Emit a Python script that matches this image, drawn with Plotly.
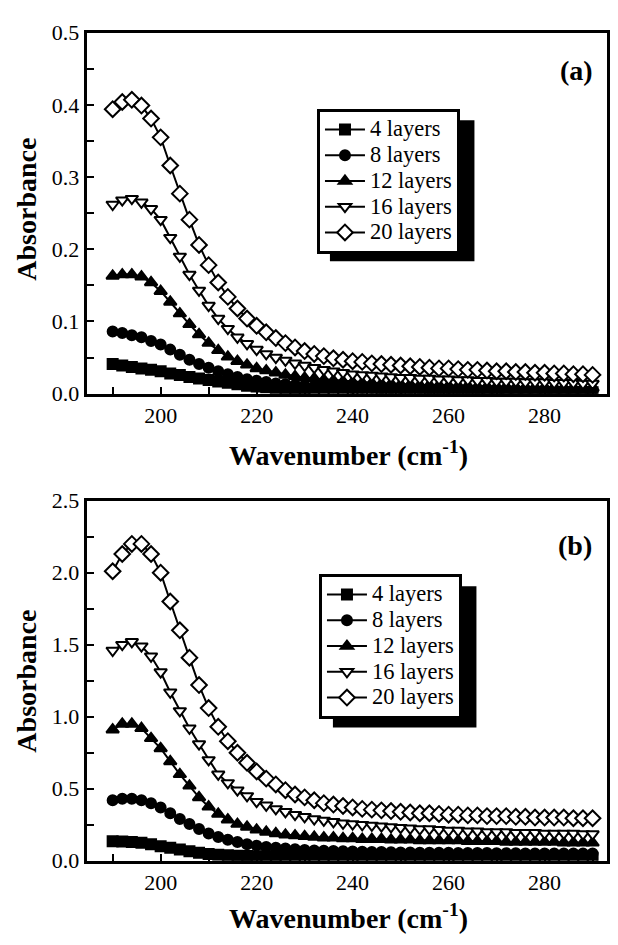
import plotly.graph_objects as go

# ---------------- data ----------------
wavenumber = [190, 192, 194, 196, 198, 200, 202, 204, 206, 208, 210, 212, 214, 216, 218, 220,
              222, 224, 226, 228, 230, 232, 234, 236, 238, 240, 242, 244, 246, 248, 250, 252,
              254, 256, 258, 260, 262, 264, 266, 268, 270, 272, 274, 276, 278, 280, 282, 284,
              286, 288, 290]

series_names = ["4 layers", "8 layers", "12 layers", "16 layers", "20 layers"]

# panel (a)
a_4 = [0.041, 0.039, 0.037, 0.035, 0.033, 0.031, 0.028, 0.026, 0.023, 0.021, 0.019, 0.017, 0.015,
       0.013, 0.011, 0.010, 0.009, 0.008, 0.007, 0.006, 0.006, 0.005, 0.005, 0.005, 0.004, 0.004,
       0.004, 0.004, 0.004, 0.003, 0.003, 0.003, 0.003, 0.003, 0.003, 0.003, 0.003, 0.003, 0.003,
       0.003, 0.002, 0.002, 0.002, 0.002, 0.002, 0.002, 0.002, 0.002, 0.002, 0.002, 0.002]
a_8 = [0.086, 0.084, 0.081, 0.078, 0.073, 0.068, 0.061, 0.054, 0.047, 0.041, 0.036, 0.031, 0.027,
       0.023, 0.020, 0.018, 0.016, 0.014, 0.013, 0.012, 0.011, 0.010, 0.010, 0.009, 0.009, 0.008,
       0.008, 0.008, 0.007, 0.007, 0.007, 0.007, 0.007, 0.006, 0.006, 0.006, 0.006, 0.006, 0.006,
       0.005, 0.005, 0.005, 0.005, 0.005, 0.005, 0.005, 0.005, 0.005, 0.005, 0.005, 0.005]
a_12 = [0.163, 0.165, 0.165, 0.162, 0.154, 0.142, 0.127, 0.111, 0.096, 0.082, 0.070, 0.060, 0.051,
        0.045, 0.040, 0.035, 0.032, 0.029, 0.026, 0.024, 0.022, 0.021, 0.019, 0.018, 0.017, 0.016,
        0.015, 0.015, 0.014, 0.014, 0.013, 0.013, 0.012, 0.012, 0.012, 0.011, 0.011, 0.011, 0.010,
        0.010, 0.010, 0.010, 0.009, 0.009, 0.009, 0.009, 0.009, 0.008, 0.008, 0.008, 0.008]
a_16 = [0.262, 0.268, 0.270, 0.265, 0.256, 0.241, 0.216, 0.190, 0.165, 0.143, 0.122, 0.104, 0.090,
        0.078, 0.069, 0.061, 0.055, 0.050, 0.046, 0.042, 0.039, 0.036, 0.033, 0.031, 0.029, 0.027,
        0.026, 0.025, 0.024, 0.023, 0.022, 0.022, 0.021, 0.021, 0.020, 0.020, 0.019, 0.019, 0.018,
        0.018, 0.017, 0.017, 0.017, 0.016, 0.016, 0.016, 0.015, 0.015, 0.015, 0.014, 0.014]
a_20 = [0.394, 0.404, 0.407, 0.399, 0.381, 0.355, 0.316, 0.277, 0.241, 0.206, 0.178, 0.154, 0.134,
        0.118, 0.104, 0.094, 0.085, 0.077, 0.070, 0.064, 0.059, 0.055, 0.052, 0.049, 0.047, 0.045,
        0.044, 0.042, 0.041, 0.040, 0.039, 0.038, 0.037, 0.036, 0.035, 0.035, 0.034, 0.033, 0.033,
        0.032, 0.031, 0.031, 0.030, 0.030, 0.029, 0.029, 0.028, 0.028, 0.027, 0.027, 0.026]

# panel (b)
b_4 = [0.135, 0.133, 0.130, 0.125, 0.115, 0.100, 0.090, 0.078, 0.066, 0.055, 0.047, 0.042, 0.038,
       0.035, 0.033, 0.031, 0.030, 0.029, 0.028, 0.027, 0.026, 0.026, 0.025, 0.025, 0.024, 0.024,
       0.024, 0.023, 0.023, 0.023, 0.023, 0.022, 0.022, 0.022, 0.022, 0.022, 0.021, 0.021, 0.021,
       0.021, 0.021, 0.021, 0.020, 0.020, 0.020, 0.020, 0.020, 0.020, 0.020, 0.020, 0.020]
b_8 = [0.42, 0.43, 0.43, 0.42, 0.40, 0.37, 0.33, 0.29, 0.255, 0.22, 0.19, 0.165, 0.145, 0.13,
       0.115, 0.105, 0.095, 0.090, 0.085, 0.080, 0.075, 0.072, 0.070, 0.068, 0.066, 0.064,
       0.062, 0.061, 0.060, 0.059, 0.058, 0.057, 0.056, 0.056, 0.055, 0.055, 0.054, 0.054, 0.053,
       0.053, 0.052, 0.052, 0.052, 0.051, 0.051, 0.051, 0.050, 0.050, 0.050, 0.050, 0.050]
b_12 = [0.91, 0.95, 0.95, 0.92, 0.85, 0.78, 0.69, 0.60, 0.52, 0.44, 0.375, 0.325, 0.285, 0.255,
        0.235, 0.215, 0.20, 0.19, 0.18, 0.175, 0.17, 0.165, 0.16, 0.16, 0.155, 0.155, 0.15, 0.15,
        0.15, 0.145, 0.145, 0.145, 0.14, 0.14, 0.14, 0.14, 0.14, 0.135, 0.135, 0.135, 0.135, 0.13,
        0.13, 0.13, 0.13, 0.13, 0.13, 0.125, 0.125, 0.125, 0.125]
b_16 = [1.46, 1.50, 1.52, 1.49, 1.42, 1.31, 1.17, 1.04, 0.92, 0.81, 0.70, 0.60, 0.54, 0.49, 0.45,
        0.41, 0.385, 0.36, 0.34, 0.32, 0.305, 0.29, 0.28, 0.27, 0.26, 0.255, 0.25, 0.245, 0.24,
        0.235, 0.23, 0.225, 0.22, 0.22, 0.215, 0.21, 0.21, 0.205, 0.205, 0.20, 0.20, 0.20, 0.195,
        0.195, 0.195, 0.19, 0.19, 0.19, 0.19, 0.185, 0.185]
b_20 = [2.01, 2.13, 2.20, 2.20, 2.13, 2.00, 1.80, 1.60, 1.41, 1.22, 1.06, 0.93, 0.83, 0.75, 0.68,
        0.62, 0.57, 0.53, 0.49, 0.46, 0.44, 0.42, 0.40, 0.39, 0.38, 0.37, 0.36, 0.355, 0.35, 0.345,
        0.34, 0.335, 0.33, 0.33, 0.325, 0.32, 0.32, 0.315, 0.315, 0.31, 0.31, 0.31, 0.305, 0.305,
        0.30, 0.30, 0.30, 0.30, 0.295, 0.295, 0.295]

x_tick_vals = [200, 220, 240, 260, 280]
x_tick_text = ["200", "220", "240", "260", "280"]

# ---------------- styling ----------------
# the page body keeps an 8px margin, so the figure is sized to fit the 618x945 window
PAGE_MARGIN = 8
W, H = 618 - 2 * PAGE_MARGIN, 945 - 2 * PAGE_MARGIN
FONT = "Liberation Serif, Times New Roman, Times, serif"

def fx(p):
    return (p - PAGE_MARGIN) / W

def fy(p):
    return 1 - (p - PAGE_MARGIN) / H

symbols = ["square", "circle", "triangle-up", "triangle-down", "diamond"]
fills = ["black", "black", "black", "white", "white"]
sizes = [10, 10, 11, 11, 12]

fig = go.Figure()

panels = [
    ([a_4, a_8, a_12, a_16, a_20], "x", "y", "legend"),
    ([b_4, b_8, b_12, b_16, b_20], "x2", "y2", "legend2"),
]
for data, xa, ya, leg in panels:
    for name, ys, sym, fc, sz in zip(series_names, data, symbols, fills, sizes):
        fig.add_trace(go.Scatter(
            x=wavenumber, y=ys, name=f'<span style="font-size:22.5px">{name}</span>',
            mode="lines+markers", xaxis=xa, yaxis=ya, legend=leg,
            line=dict(color="black", width=2),
            marker=dict(symbol=sym, size=sz, color=fc,
                        line=dict(color="black", width=2)),
        ))

axis_common = dict(showline=True, linewidth=3, linecolor="black", mirror=True,
                   showgrid=False, zeroline=False, ticks="inside", ticklen=7,
                   tickwidth=2, tickcolor="black",
                   tickfont=dict(family=FONT, size=22, color="black"))

x_dom = [fx(87), fx(608.5)]
x_range = [184.6, 292.9]
top_dom = [fy(392), fy(21)]
bot_dom = [fy(872), fy(502)]

def ann(text, x, y, angle=0):
    return dict(text=text, x=fx(x), y=fy(y), xref="paper", yref="paper",
                xanchor="center", yanchor="middle", textangle=angle,
                showarrow=False, font=dict(family=FONT, size=28, color="black"))

legend_common = dict(xanchor="left", yanchor="top", bgcolor="white",
                     bordercolor="black", borderwidth=3,
                     font=dict(family=FONT, size=17.5, color="black"),
                     itemwidth=40, tracegroupgap=0)

minor_x = dict(tickvals=[190, 210, 230, 250, 270, 290], ticks="inside",
               ticklen=7, tickwidth=2, tickcolor="black")

fig.update_layout(
    width=W, height=H,
    margin=dict(l=0, r=0, t=0, b=0),
    paper_bgcolor="white", plot_bgcolor="white",
    font=dict(family=FONT, color="black"),
    xaxis=dict(domain=x_dom, anchor="y", range=x_range,
               tickvals=x_tick_vals, ticktext=x_tick_text, minor=minor_x,
               **axis_common),
    yaxis=dict(domain=top_dom, anchor="x", range=[0, 0.5], dtick=0.1, tick0=0,
               tickformat=".1f",
               minor=dict(dtick=0.05, tick0=0, ticks="inside", ticklen=7, tickwidth=2,
                          tickcolor="black"),
               **axis_common),
    xaxis2=dict(domain=x_dom, anchor="y2", range=x_range,
                tickvals=x_tick_vals, ticktext=x_tick_text, minor=minor_x,
                **axis_common),
    yaxis2=dict(domain=bot_dom, anchor="x2", range=[0, 2.5], dtick=0.5, tick0=0,
                tickformat=".1f",
                minor=dict(dtick=0.25, tick0=0, ticks="inside", ticklen=7, tickwidth=2,
                           tickcolor="black"),
                **axis_common),
    legend=dict(x=fx(318), y=fy(99), **legend_common),
    legend2=dict(x=fx(320), y=fy(577), **legend_common),
    shapes=[
        dict(type="rect", xref="paper", yref="paper", layer="above",
             x0=fx(331), x1=fx(476), y0=fy(256), y1=fy(111),
             fillcolor="black", line=dict(width=0)),
        dict(type="rect", xref="paper", yref="paper", layer="above",
             x0=fx(334), x1=fx(478), y0=fy(735), y1=fy(590),
             fillcolor="black", line=dict(width=0)),
    ],
    annotations=[
        ann("<b>(a)</b>", 578, 60),
        ann("<b>(b)</b>", 577, 548),
        ann("<b>Absorbance</b>", 27, 202, -90),
        ann("<b>Absorbance</b>", 27, 687, -90),
        ann("<b>Wavenumber (cm<sup>-1</sup>)</b>", 350, 453),
        ann("<b>Wavenumber (cm<sup>-1</sup>)</b>", 350, 929),
    ],
)

fig.write_html("out.html")
